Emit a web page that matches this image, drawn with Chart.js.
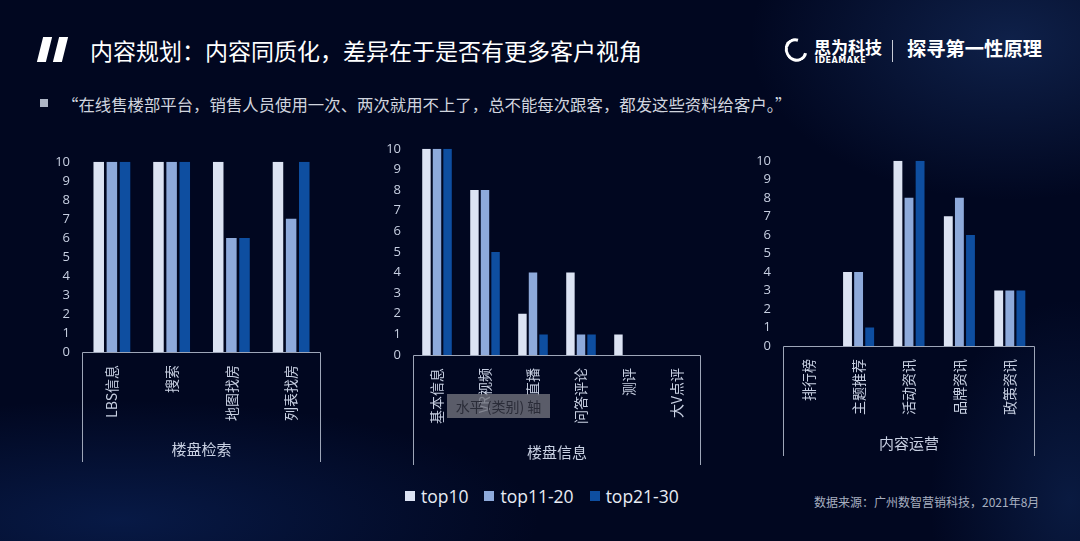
<!DOCTYPE html>
<html lang="zh">
<head>
<meta charset="utf-8">
<script src="https://cdn.jsdelivr.net/npm/chart.js@4/dist/chart.umd.min.js"></script>
<style>
  html, body { margin: 0; padding: 0; }
  body {
    width: 1080px; height: 541px; overflow: hidden; position: relative;
    font-family: "Noto Sans CJK SC", "Noto Sans", sans-serif;
    background:
      radial-gradient(ellipse 260px 160px at 1010px 40px, rgba(40,80,150,0.35), rgba(0,0,0,0)),
      radial-gradient(ellipse 420px 120px at 120px 520px, rgba(20,60,140,0.35), rgba(0,0,0,0)),
      radial-gradient(ellipse 140px 200px at 1070px 500px, rgba(30,70,140,0.30), rgba(0,0,0,0)),
      #010720;
  }
  .abs { position: absolute; }
  .barre { position: absolute; top: 37px; width: 9px; height: 25px; background: #fff; transform: skewX(-14deg); }
  #titre { left: 90px; top: 33px; font-size: 23px; color: #fff; white-space: nowrap; }
  #citation { left: 62px; top: 92px; font-size: 16.4px; color: #d0d4de; white-space: nowrap; }
  #puce { left: 40px; top: 99px; width: 8px; height: 8px; background: #aeb6c6; }
  #logo-o { left: 785px; top: 38px; width: 16px; height: 18px; border: 3px solid #fff; border-right-color: transparent; border-radius: 50%; transform: rotate(-30deg); }
  #logo-nom { left: 814px; top: 34px; font-size: 17px; font-weight: bold; color: #fff; }
  #logo-en { left: 815px; top: 56px; font-size: 8px; font-weight: bold; color: #fff; letter-spacing: 0.5px; font-family: "DejaVu Sans", sans-serif; }
  #sep { left: 892px; top: 40px; width: 1px; height: 22px; background: #c8ccd6; }
  #slogan { left: 907px; top: 34px; font-size: 19.3px; font-weight: bold; color: #fff; white-space: nowrap; }
  canvas { position: absolute; }
  #legende { left: 405px; top: 484px; display: flex; align-items: center; font-size: 17.5px; color: #e8ecf4; font-family: "Open Sans", "Noto Sans", sans-serif; }
  #legende span.c { display: inline-block; width: 10px; height: 10px; margin-right: 6px; }
  #legende span.t { margin-right: 16px; }
  #source { left: 814px; top: 493px; font-size: 12px; color: #a8b0c0; white-space: nowrap; }
  #bulle { left: 447px; top: 394px; width: 103px; height: 24px; background: rgba(112,114,124,0.8); color: #2a2c38; font-size: 14px; line-height: 24px; text-align: center; }
</style>
</head>
<body>
<div class="barre" style="left:40px"></div>
<div class="barre" style="left:56px"></div>
<div id="titre" class="abs">内容规划：内容同质化，差异在于是否有更多客户视角</div>
<div id="logo-o" class="abs"></div>
<div id="logo-nom" class="abs">思为科技</div>
<div id="logo-en" class="abs">IDEAMAKE</div>
<div id="sep" class="abs"></div>
<div id="slogan" class="abs">探寻第一性原理</div>
<div id="puce" class="abs"></div>
<div id="citation" class="abs">“在线售楼部平台，销售人员使用一次、两次就用不上了，总不能每次跟客，都发这些资料给客户。”</div>

<canvas id="g1" style="left:50px;top:142px" width="281" height="320"></canvas>
<canvas id="g2" style="left:381px;top:129px" width="330" height="336"></canvas>
<canvas id="g3" style="left:751px;top:141px" width="294" height="315"></canvas>

<div id="bulle" class="abs">水平 (类别) 轴</div>

<div id="legende" class="abs">
  <span class="c" style="background:#dce3f3"></span><span class="t">top10</span>
  <span class="c" style="background:#8eaadb"></span><span class="t">top11-20</span>
  <span class="c" style="background:#0e4ea0"></span><span class="t">top21-30</span>
</div>
<div id="source" class="abs">数据来源：广州数智营销科技，2021年8月</div>

<script>
// ── Données ───────────────────────────────────────────────────────────
const SERIES = ['top10', 'top11-20', 'top21-30'];
const COULEURS = ['#dce3f3', '#8eaadb', '#0e4ea0'];
const Y_TICKS = [0, 1, 2, 3, 4, 5, 6, 7, 8, 9, 10];

const RECHERCHE_LABELS = ['LBS信息', '搜索', '地图找房', '列表找房'];
const RECHERCHE_TOP10 = [10, 10, 10, 10];
const RECHERCHE_TOP20 = [10, 10, 6, 7];
const RECHERCHE_TOP30 = [10, 10, 6, 10];

const INFO_LABELS = ['基本信息', 'VR视频', '直播', '问答评论', '测评', '大V点评'];
const INFO_TOP10 = [10, 8, 2, 4, 1, 0];
const INFO_TOP20 = [10, 8, 4, 1, 0, 0];
const INFO_TOP30 = [10, 5, 1, 1, 0, 0];

const CONTENU_LABELS = ['排行榜', '主题推荐', '活动资讯', '品牌资讯', '政策资讯'];
const CONTENU_TOP10 = [0, 4, 10, 7, 3];
const CONTENU_TOP20 = [0, 4, 8, 8, 3];
const CONTENU_TOP30 = [0, 1, 10, 6, 3];

// ── Cadre de l'axe des catégories (style PowerPoint) ──────────────────
const cadreAxe = {
    id: 'cadreAxe',
    afterDraw(chart) {
        const { ctx, chartArea: a, scales: { x } } = chart;
        ctx.save();
        ctx.strokeStyle = '#9ea6b8';
        ctx.lineWidth = 1;
        ctx.beginPath();
        ctx.moveTo(Math.round(a.left) + 0.5, x.bottom);
        ctx.lineTo(Math.round(a.left) + 0.5, Math.round(a.bottom) + 0.5);
        ctx.lineTo(Math.round(a.right) - 0.5, Math.round(a.bottom) + 0.5);
        ctx.lineTo(Math.round(a.right) - 0.5, x.bottom);
        ctx.stroke();
        ctx.restore();
    },
};

const POLICE_CJK = '"Noto Sans CJK SC", "Noto Sans", sans-serif';

function creerGraph(id, labels, valeurs, titre, hauteurX) {
    new Chart(document.getElementById(id), {
        type: 'bar',
        data: {
            labels,
            datasets: SERIES.map((nom, i) => ({
                label: nom,
                data: valeurs[i],
                backgroundColor: COULEURS[i],
                borderWidth: 0,
                categoryPercentage: 0.66,
                barPercentage: 0.8,
            })),
        },
        options: {
            responsive: false,
            animation: false,
            layout: { padding: { top: 10, right: 10, left: 0, bottom: 0 } },
            plugins: { legend: { display: false }, tooltip: { enabled: false } },
            scales: {
                x: {
                    grid: { display: false, drawTicks: false },
                    border: { display: false },
                    ticks: {
                        color: '#c8d0e2',
                        font: { family: POLICE_CJK, size: 14 },
                        minRotation: 90, maxRotation: 90,
                        autoSkip: false,
                        padding: 13,
                    },
                    title: {
                        display: true, text: titre, color: '#c8d0e2',
                        font: { family: POLICE_CJK, size: 15 },
                    },
                    afterFit(axe) { axe.height = hauteurX; },
                },
                y: {
                    min: 0, max: 10,
                    grid: { display: false, drawTicks: false },
                    border: { display: false },
                    afterBuildTicks(axe) { axe.ticks = Y_TICKS.map(v => ({ value: v })); },
                    ticks: {
                        color: '#c8d0e2',
                        font: { family: '"Open Sans", "Noto Sans", sans-serif', size: 13 },
                        padding: 12,
                        autoSkip: false,
                    },
                    afterFit(axe) { axe.width = 32; },
                },
            },
        },
        plugins: [cadreAxe],
    });
}

creerGraph('g1', RECHERCHE_LABELS, [RECHERCHE_TOP10, RECHERCHE_TOP20, RECHERCHE_TOP30], '楼盘检索', 110);
creerGraph('g2', INFO_LABELS, [INFO_TOP10, INFO_TOP20, INFO_TOP30], '楼盘信息', 110);
creerGraph('g3', CONTENU_LABELS, [CONTENU_TOP10, CONTENU_TOP20, CONTENU_TOP30], '内容运营', 110);
</script>
</body>
</html>
